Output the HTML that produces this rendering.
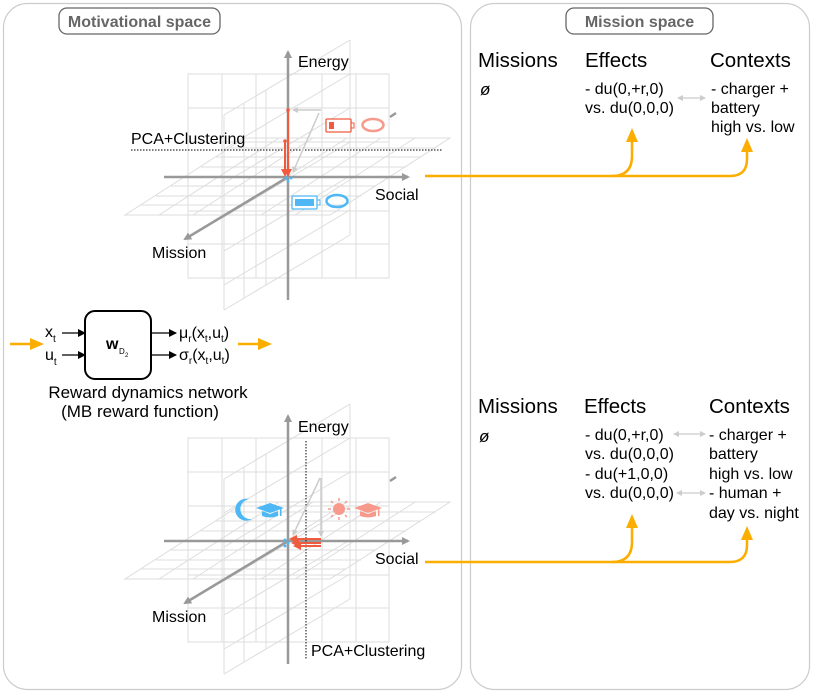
<!DOCTYPE html>
<html><head><meta charset="utf-8"><style>
html,body{margin:0;padding:0;background:#fff;}
svg{display:block;font-family:"Liberation Sans",Arial,sans-serif;}
</style></head><body>
<svg width="814" height="693" viewBox="0 0 814 693" xmlns="http://www.w3.org/2000/svg">
<defs>
<marker id="ag" markerWidth="8" markerHeight="8" refX="6" refY="4" orient="auto" markerUnits="userSpaceOnUse"><path d="M0,0 L8,4 L0,8 Z" fill="#999"/></marker>
<marker id="ar" markerWidth="8" markerHeight="8" refX="6" refY="4" orient="auto" markerUnits="userSpaceOnUse"><path d="M0,0 L8,4 L0,8 Z" fill="#f05a3e"/></marker>
<marker id="al" markerWidth="6" markerHeight="6" refX="5" refY="3" orient="auto" markerUnits="userSpaceOnUse"><path d="M0,0 L6,3 L0,6 Z" fill="#ccc"/></marker>
<marker id="ab" markerWidth="8" markerHeight="8" refX="7" refY="4" orient="auto" markerUnits="userSpaceOnUse"><path d="M0,0 L8,4 L0,8 Z" fill="#000"/></marker>
<marker id="ao" markerWidth="14" markerHeight="12" refX="10" refY="6" orient="auto" markerUnits="userSpaceOnUse"><path d="M0,0 L14,6 L0,12 Z" fill="#fbae00"/></marker>
<marker id="ald" markerWidth="6" markerHeight="6" refX="5" refY="3" orient="auto-start-reverse" markerUnits="userSpaceOnUse"><path d="M0,0 L6,3 L0,6 Z" fill="#ccc"/></marker>
<g id="grid" stroke="#ddd" stroke-width="1" fill="none">
  <rect x="188" y="74" width="201" height="204" fill="#fff"/>
  <path d="M222,74V278M256,74V278M288,74V278M322,74V278M356,74V278M188,108H389M188,142H389M188,177H389M188,211H389M188,244H389"/>
  <path d="M224,115V310M244,103V298M266,90V285M350,40V235 M224,115L350,40M224,149L350,74M224,183L350,108M224,217L350,142M224,251L350,176M224,285L350,210M224,310L350,235" />
  <path d="M125,215L330,215L450,138L245,138Z M141,205L346,205M156,196L361,196M171,186L376,186M186,177L391,177M201,167L406,167M216,157L421,157M231,148L436,148 M159,215L279,138M193,215L313,138M227,215L347,138M261,215L381,138M295,215L415,138"/>
</g>
</defs>

<rect x="3.5" y="3.5" width="458" height="686" rx="24" fill="none" stroke="#ccc" stroke-width="1.2"/>
<rect x="470.5" y="3.5" width="339" height="686" rx="24" fill="none" stroke="#ccc" stroke-width="1.2"/>
<rect x="59" y="8" width="161" height="26" rx="8" fill="#fff" stroke="#666" stroke-width="1.3"/>
<text x="139.5" y="27" text-anchor="middle" font-size="16" font-weight="bold" fill="#666">Motivational space</text>
<rect x="566" y="8" width="147" height="26" rx="8" fill="#fff" stroke="#666" stroke-width="1.3"/>
<text x="639.5" y="27" text-anchor="middle" font-size="16" font-weight="bold" fill="#666">Mission space</text>

<use href="#grid"/>
<g stroke="#999" stroke-width="2.5" fill="none">
  <line x1="288" y1="300" x2="288" y2="52" marker-end="url(#ag)"/>
  <line x1="164" y1="177" x2="408" y2="177" marker-end="url(#ag)"/>
  <line x1="288" y1="177" x2="185" y2="239" marker-end="url(#ag)"/>
  <line x1="390" y1="117" x2="396" y2="113"/>
</g>
<text x="298" y="67" font-size="16">Energy</text>
<text x="375" y="200" font-size="16">Social</text>
<text x="152" y="258" font-size="16">Mission</text>
<line x1="131" y1="150" x2="442" y2="150" stroke="#333" stroke-width="1.2" stroke-dasharray="1.5,1.5"/>
<text x="131" y="144" font-size="16">PCA+Clustering</text>
<g stroke="#ccc" stroke-width="1.5"><line x1="321" y1="110" x2="293" y2="110" marker-end="url(#al)"/><line x1="319" y1="113" x2="293" y2="172" marker-end="url(#al)"/></g>
<g stroke="#f05a3e" stroke-width="2"><line x1="288" y1="110" x2="288" y2="175" marker-end="url(#ar)"/><line x1="285" y1="141" x2="285" y2="175" marker-end="url(#ar)"/></g>
<circle cx="288" cy="110" r="1.8" fill="#f05a3e"/><circle cx="285" cy="141" r="1.8" fill="#f05a3e"/>
<g fill="#4db8f5"><circle cx="286" cy="178" r="1.5"/><circle cx="291" cy="178" r="1.5"/><circle cx="288" cy="181" r="1.5"/></g>
<rect x="326" y="119" width="25" height="13" rx="1" fill="#fff" stroke="#f05a3e" stroke-width="1.3"/><rect x="351" y="123" width="3" height="5" fill="none" stroke="#f05a3e"/><rect x="329" y="122" width="5" height="7" fill="#f05a3e"/>
<ellipse cx="373" cy="125" rx="10.5" ry="6" fill="none" stroke="#f79a8c" stroke-width="2.5"/>
<rect x="292" y="196" width="25" height="13" rx="1" fill="#fff" stroke="#4db8f5" stroke-width="1.3"/><rect x="317" y="200" width="3" height="5" fill="none" stroke="#4db8f5"/><rect x="295" y="199" width="19" height="7" fill="#4db8f5"/>
<ellipse cx="337" cy="201" rx="10.5" ry="6" fill="none" stroke="#4db8f5" stroke-width="2.5"/>

<g transform="translate(0,364)"><use href="#grid"/>
<g stroke="#999" stroke-width="2.5" fill="none">
  <line x1="288" y1="300" x2="288" y2="52" marker-end="url(#ag)"/>
  <line x1="164" y1="177" x2="408" y2="177" marker-end="url(#ag)"/>
  <line x1="288" y1="177" x2="185" y2="239" marker-end="url(#ag)"/>
  <line x1="390" y1="117" x2="396" y2="113"/>
</g></g>
<text x="298" y="432" font-size="16">Energy</text>
<text x="375" y="564" font-size="16">Social</text>
<text x="152" y="622" font-size="16">Mission</text>
<line x1="306" y1="441" x2="306" y2="660" stroke="#333" stroke-width="1.2" stroke-dasharray="1.5,1.5"/>
<text x="311" y="656" font-size="16">PCA+Clustering</text>
<g stroke="#ccc" stroke-width="1.5"><line x1="321" y1="478" x2="321" y2="536" marker-end="url(#al)"/><line x1="320" y1="478" x2="293" y2="535" marker-end="url(#al)"/></g>
<g stroke="#f05a3e" stroke-width="2"><line x1="321" y1="539" x2="291" y2="539" marker-end="url(#ar)"/><line x1="321" y1="543" x2="293" y2="543" marker-end="url(#ar)"/><line x1="321" y1="546" x2="295" y2="546" marker-end="url(#ar)"/></g>
<g fill="#4db8f5"><circle cx="285" cy="540" r="1.5"/><circle cx="288" cy="543" r="1.5"/><circle cx="285" cy="546" r="1.5"/></g>
<path d="M249,499 A11,11 0 1,0 252,519 A9,9 0 0,1 249,499 Z" fill="#4db8f5"/>
<g fill="#4db8f5"><path d="M256,508 L270,503 L284,508 L270,513 Z"/><path d="M262,511 V516 Q270,519 278,516 V511 L270,514 Z"/><rect x="280" y="508" width="1.5" height="8"/></g>
<circle cx="339" cy="509" r="6" fill="#f79a8c"/>
<g stroke="#f79a8c" stroke-width="1.5"><line x1="339" y1="498" x2="339" y2="501"/><line x1="339" y1="517" x2="339" y2="520"/><line x1="328" y1="509" x2="331" y2="509"/><line x1="347" y1="509" x2="350" y2="509"/><line x1="331" y1="501" x2="333" y2="503"/><line x1="345" y1="515" x2="347" y2="517"/><line x1="331" y1="517" x2="333" y2="515"/><line x1="345" y1="503" x2="347" y2="501"/></g>
<g fill="#f79a8c"><path d="M354,508 L368,503 L382,508 L368,513 Z"/><path d="M360,511 V516 Q368,519 376,516 V511 L368,514 Z"/><rect x="378" y="508" width="1.5" height="8"/></g>

<line x1="10" y1="344" x2="40" y2="344" stroke="#fbae00" stroke-width="2.5" marker-end="url(#ao)"/>
<line x1="238" y1="344" x2="268" y2="344" stroke="#fbae00" stroke-width="2.5" marker-end="url(#ao)"/>
<rect x="85" y="311" width="66" height="68" rx="10" fill="#fff" stroke="#000" stroke-width="2"/>
<text x="106" y="349" font-size="16" font-weight="bold">w</text><text x="119" y="354" font-size="8">D</text><text x="125" y="357" font-size="6">2</text>
<g stroke="#000" stroke-width="1.3"><line x1="62" y1="333" x2="85" y2="333" marker-end="url(#ab)"/><line x1="62" y1="355" x2="85" y2="355" marker-end="url(#ab)"/><line x1="151" y1="333" x2="176" y2="333" marker-end="url(#ab)"/><line x1="151" y1="355" x2="176" y2="355" marker-end="url(#ab)"/></g>
<text x="45" y="337" font-size="16">x<tspan font-size="10" dy="5">t</tspan></text>
<text x="45" y="360" font-size="16">u<tspan font-size="10" dy="5">t</tspan></text>
<text x="179" y="338" font-size="16">μ<tspan font-size="10" dy="4">r</tspan><tspan dy="-4">(x</tspan><tspan font-size="10" dy="4">t</tspan><tspan dy="-4">,u</tspan><tspan font-size="10" dy="4">t</tspan><tspan dy="-4">)</tspan></text>
<text x="179" y="360" font-size="16">σ<tspan font-size="10" dy="4">r</tspan><tspan dy="-4">(x</tspan><tspan font-size="10" dy="4">t</tspan><tspan dy="-4">,u</tspan><tspan font-size="10" dy="4">t</tspan><tspan dy="-4">)</tspan></text>
<text x="148" y="398" text-anchor="middle" font-size="17">Reward dynamics network</text>
<text x="140" y="417" text-anchor="middle" font-size="17">(MB reward function)</text>

<text x="478" y="67" font-size="20.5">Missions</text>
<text x="585" y="67" font-size="20.5">Effects</text>
<text x="710" y="67" font-size="20.5">Contexts</text>
<text x="480" y="95" font-size="17" font-style="italic">ø</text>
<g font-size="16"><text x="585" y="94">- du(0,+r,0)</text><text x="585" y="113">vs. du(0,0,0)</text>
<text x="711" y="94">- charger +</text><text x="711" y="113">battery</text><text x="711" y="132">high vs. low</text></g>
<line x1="678" y1="98" x2="705" y2="98" stroke="#ccc" stroke-width="1.3" marker-start="url(#ald)" marker-end="url(#ald)"/>
<g stroke="#fbae00" stroke-width="2.5" fill="none">
<path d="M425,176 H612 Q632,176 632,156 V132" marker-end="url(#ao)"/>
<path d="M612,176 H730 Q747,176 747,159 V142" marker-end="url(#ao)"/>
</g>

<text x="478" y="413" font-size="20.5">Missions</text>
<text x="584" y="413" font-size="20.5">Effects</text>
<text x="709" y="413" font-size="20.5">Contexts</text>
<text x="479" y="442" font-size="17" font-style="italic">ø</text>
<g font-size="16"><text x="585" y="440">- du(0,+r,0)</text><text x="585" y="459">vs. du(0,0,0)</text><text x="585" y="479">- du(+1,0,0)</text><text x="585" y="498">vs. du(0,0,0)</text>
<text x="709" y="440">- charger +</text><text x="709" y="459">battery</text><text x="709" y="479">high vs. low</text><text x="709" y="498">- human +</text><text x="709" y="518">day vs. night</text></g>
<line x1="674" y1="434" x2="705" y2="434" stroke="#ccc" stroke-width="1.3" marker-start="url(#ald)" marker-end="url(#ald)"/>
<line x1="677" y1="493" x2="705" y2="493" stroke="#ccc" stroke-width="1.3" marker-start="url(#ald)" marker-end="url(#ald)"/>
<g stroke="#fbae00" stroke-width="2.5" fill="none">
<path d="M425,562 H612 Q632,562 632,542 V518" marker-end="url(#ao)"/>
<path d="M612,562 H730 Q747,562 747,545 V530" marker-end="url(#ao)"/>
</g>
</svg>
</body></html>
